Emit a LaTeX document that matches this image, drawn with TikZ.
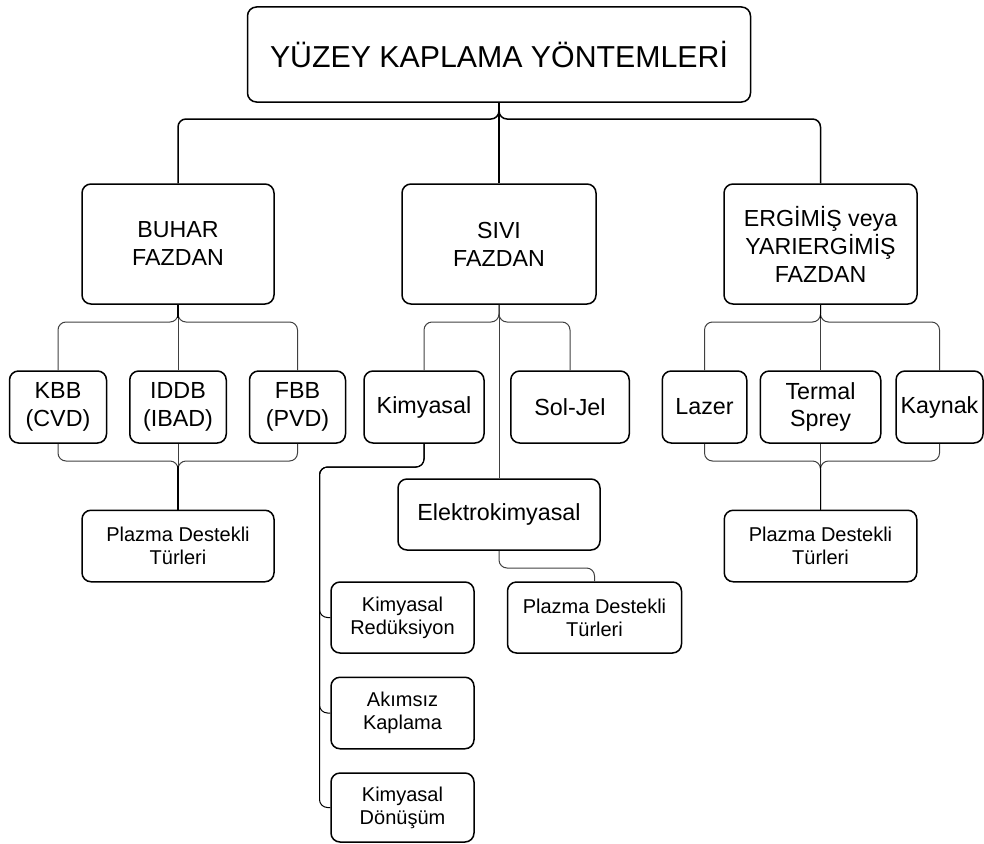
\documentclass[tikz,border=0pt]{standalone}
\usepackage{fontspec}
\setmainfont{Liberation Sans}
\begin{document}
\begin{tikzpicture}[x=1pt,y=-1pt,
  box/.style={draw=black,line width=1.5pt,rounded corners=9pt,align=center,inner sep=0pt,text=black},
  ftitle/.style={font=\fontsize{30.3}{36}\selectfont},
  flev/.style={font=\fontsize{23.2}{28}\selectfont},
  fsub/.style={font=\fontsize{23.3}{27.5}\selectfont},
  fsmall/.style={font=\fontsize{20}{22.8}\selectfont},
  bigconn/.style={draw=black,line width=1.5pt,rounded corners=8pt},
  conn/.style={draw=black!75,line width=1pt,rounded corners=8pt}]
\useasboundingbox (0,0) rectangle (984,843);
% nodes
\node[box,ftitle,minimum width=503,minimum height=95] (title) at (499,54.5) {YÜZEY KAPLAMA YÖNTEMLERİ};
\node[box,flev,minimum width=192,minimum height=120] (buhar) at (178,244) {BUHAR\\FAZDAN};
\node[box,flev,minimum width=194,minimum height=120] (sivi) at (499,244) {SIVI\\FAZDAN};
\node[box,flev,minimum width=193,minimum height=120] (ergimis) at (820.5,244) {ERGİMİŞ veya\\YARIERGİMİŞ\\FAZDAN};
\node[box,fsub,minimum width=97,minimum height=72] (kbb) at (58,407) {KBB\\(CVD)};
\node[box,fsub,minimum width=96.5,minimum height=72] (iddb) at (178,407) {IDDB\\(IBAD)};
\node[box,fsub,minimum width=96,minimum height=72] (fbb) at (297.5,407) {FBB\\(PVD)};
\node[box,fsmall,minimum width=192,minimum height=71.5] (plazmaA) at (178,546) {Plazma Destekli\\Türleri};
\node[box,fsub,minimum width=120,minimum height=72] (kimyasal) at (424,407) {Kimyasal};
\node[box,fsub,minimum width=118.5,minimum height=72] (soljel) at (570,407) {Sol-Jel};
\node[box,fsub,minimum width=202,minimum height=71] (elektro) at (499,514.5) {Elektrokimyasal};
\node[box,fsmall,minimum width=174,minimum height=71] (plazmaB) at (594.5,617.5) {Plazma Destekli\\Türleri};
\node[box,fsmall,minimum width=143,minimum height=71] (red) at (402.5,617.5) {Kimyasal\\Redüksiyon};
\node[box,fsmall,minimum width=143,minimum height=71.5] (akim) at (402.5,713) {Akımsız\\Kaplama};
\node[box,fsmall,minimum width=143,minimum height=69] (donusum) at (402.5,807.5) {Kimyasal\\Dönüşüm};
\node[box,fsub,minimum width=84.5,minimum height=72] (lazer) at (704.5,407) {Lazer};
\node[box,fsub,minimum width=120.5,minimum height=72] (termal) at (820.5,407) {Termal\\Sprey};
\node[box,fsub,minimum width=87,minimum height=72] (kaynak) at (939.5,407) {Kaynak};
\node[box,fsmall,minimum width=192.5,minimum height=71.5] (plazmaC) at (820.5,546) {Plazma Destekli\\Türleri};
\coordinate (kbus) at (319.5,467);
% title connectors
\draw[bigconn] (title.south) |- (buhar.north |- 0,119) -- (buhar.north);
\draw[bigconn] (title.south) -- (sivi.north);
\draw[bigconn] (title.south) |- (ergimis.north |- 0,119) -- (ergimis.north);
% buhar cluster
\draw[conn] (buhar.south) |- (kbb.north |- 0,322) -- (kbb.north);
\draw[conn] (buhar.south) -- (iddb.north);
\draw[conn] (buhar.south) |- (fbb.north |- 0,322) -- (fbb.north);
\draw[conn] (kbb.south) |- (plazmaA.north |- 0,461) -- (plazmaA.north);
\draw[conn] (iddb.south) -- (plazmaA.north);
\draw[conn] (fbb.south) |- (plazmaA.north |- 0,461) -- (plazmaA.north);
\draw[draw=black,line width=1.2pt] (buhar.south) -- (buhar.south |- 0,318);
\draw[draw=black,line width=1.2pt] (plazmaA.north) -- (plazmaA.north |- 0,466);
% sivi cluster
\draw[conn] (sivi.south) |- (kimyasal.north |- 0,322) -- (kimyasal.north);
\draw[conn] (sivi.south) |- (soljel.north |- 0,322) -- (soljel.north);
\draw[conn] (sivi.south) -- (elektro.north);
\draw[conn] (elektro.south) |- (plazmaB.north |- 0,568) -- (plazmaB.north);
\draw[conn,draw=black] (kimyasal.south) |- (kbus) |- (red.west);
\draw[conn,draw=black] (kimyasal.south) |- (kbus) |- (akim.west);
\draw[conn,draw=black] (kimyasal.south) |- (kbus) |- (donusum.west);
% ergimis cluster
\draw[conn] (ergimis.south) |- (lazer.north |- 0,322) -- (lazer.north);
\draw[conn] (ergimis.south) -- (termal.north);
\draw[conn] (ergimis.south) |- (kaynak.north |- 0,322) -- (kaynak.north);
\draw[conn] (lazer.south) |- (plazmaC.north |- 0,461) -- (plazmaC.north);
\draw[conn] (termal.south) -- (plazmaC.north);
\draw[conn] (kaynak.south) |- (plazmaC.north |- 0,461) -- (plazmaC.north);
\draw[draw=black,line width=1.2pt] (ergimis.south) -- (ergimis.south |- 0,318);
\draw[draw=black,line width=1.2pt] (plazmaC.north) -- (plazmaC.north |- 0,466);
\end{tikzpicture}
\end{document}
